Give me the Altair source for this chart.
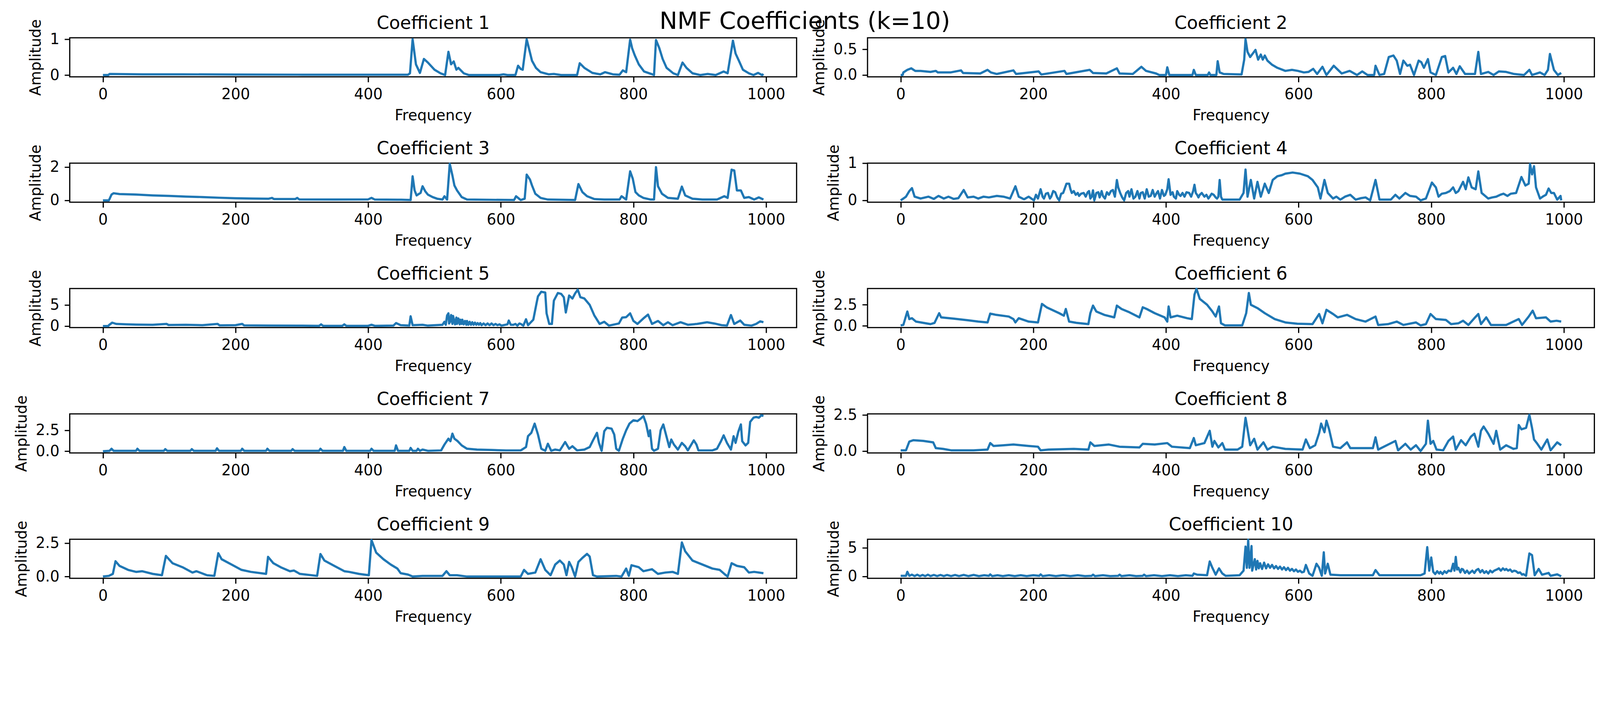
import altair as alt
import pandas as pd

# (frequency, amplitude) pairs
c1 = [(0,0),(8,0),(10,0.03),(60,0.02),(120,0.02),(200,0.015),(300,0.01),(400,0.01),(460,0.01),(463,0.05),(467,1.0),(472,0.3),(478,0.06),(484,0.45),(490,0.35),(500,0.15),(509,0.05),(516,0.0),(521,0.65),(525,0.3),(529,0.38),(533,0.15),(536,0.2),(544,0.05),(552,0.0),(598,0.0),(604,0.02),(610,0.0),(622,0.0),(626,0.26),(630,0.17),(633,0.15),(639,1.0),(643,0.7),(647,0.4),(653,0.2),(660,0.08),(672,0.02),(680,0.03),(691,0.0),(715,0.0),(719,0.33),(726,0.2),(738,0.06),(750,0.02),(757,0.08),(769,0.02),(779,0.01),(784,0.13),(789,0.08),(795,0.99),(798,0.75),(802,0.55),(808,0.3),(816,0.1),(827,0.03),(831,0.0),(834,0.98),(839,0.75),(844,0.45),(850,0.2),(860,0.05),(867,0.0),(874,0.35),(880,0.2),(889,0.05),(901,0.0),(912,0.03),(924,0.0),(936,0.1),(942,0.05),(950,0.96),(954,0.6),(959,0.4),(965,0.15),(974,0.05),(981,0.0),(988,0.06),(994,0.0),(996,0.03)]

c2 = [(0,0),(3,0),(4,0.05),(10,0.1),(16,0.13),(22,0.08),(30,0.08),(45,0.06),(53,0.08),(56,0.05),(75,0.05),(91,0.09),(94,0.04),(120,0.03),(131,0.1),(136,0.05),(145,0.02),(170,0.09),(174,0.02),(208,0.07),(212,0.01),(247,0.08),(250,0.02),(285,0.1),(290,0.04),(310,0.03),(326,0.13),(330,0.03),(350,0.02),(363,0.16),(370,0.08),(385,0.03),(390,0.0),(400,0.0),(402,0.15),(405,0.0),(440,0.0),(442,0.1),(445,0.0),(463,0.0),(465,0.05),(467,0.0),(476,0.0),(478,0.27),(481,0.05),(487,0.02),(514,0.01),(518,0.3),(520,0.7),(523,0.45),(527,0.35),(531,0.42),(535,0.49),(539,0.3),(543,0.4),(546,0.3),(549,0.38),(553,0.28),(560,0.2),(568,0.14),(580,0.08),(590,0.1),(599,0.08),(608,0.05),(615,0.06),(622,0.12),(628,0.02),(636,0.16),(642,0.0),(653,0.18),(665,0.03),(677,0.08),(688,0.0),(696,0.07),(704,0.0),(714,0.0),(716,0.18),(722,0.0),(729,0.02),(736,0.35),(743,0.38),(748,0.28),(753,0.02),(758,0.28),(764,0.18),(768,0.2),(774,0.0),(781,0.28),(785,0.25),(789,0.14),(795,0.31),(799,0.05),(807,0.0),(816,0.35),(821,0.37),(826,0.05),(833,0.14),(838,0.02),(843,0.17),(851,0.02),(866,0.02),(871,0.45),(875,0.02),(886,0.06),(894,0.0),(902,0.07),(913,0.06),(925,0.02),(940,0.0),(948,0.1),(952,0.0),(964,0.05),(971,0.0),(976,0.1),(979,0.41),(985,0.1),(991,0.0),(996,0.04)]

c3 = [(0,0),(9,0),(13,0.35),(16,0.43),(25,0.38),(50,0.35),(75,0.3),(100,0.27),(125,0.23),(150,0.2),(175,0.16),(200,0.13),(225,0.11),(250,0.1),(255,0.15),(258,0.08),(290,0.08),(293,0.15),(296,0.06),(350,0.05),(400,0.06),(405,0.15),(410,0.05),(450,0.04),(464,0.02),(467,1.45),(470,0.6),(473,0.3),(479,0.45),(482,0.85),(486,0.55),(490,0.35),(497,0.2),(504,0.1),(512,0.05),(515,0.25),(519,0.05),(523,2.2),(527,1.5),(530,0.9),(534,0.6),(541,0.2),(549,0.05),(620,0.02),(623,0.25),(630,0.02),(636,0.1),(639,1.55),(644,1.25),(647,0.9),(652,0.4),(660,0.15),(671,0.05),(712,0.02),(717,0.98),(723,0.5),(730,0.25),(741,0.08),(756,0.05),(779,0.05),(782,0.25),(789,0.05),(795,1.75),(799,1.3),(803,0.5),(808,0.3),(815,0.15),(826,0.05),(831,0.05),(834,2.0),(837,0.85),(843,0.4),(852,0.15),(867,0.1),(873,0.83),(878,0.3),(889,0.1),(904,0.05),(926,0.05),(937,0.25),(942,0.15),(948,1.85),(952,1.8),(956,0.6),(962,0.6),(967,0.15),(974,0.2),(982,0.05),(989,0.18),(996,0.05)]

c4 = [(0,0),(4,0.05),(8,0.1),(13,0.25),(17,0.33),(21,0.1),(30,0.05),(42,0.1),(50,0.04),(57,0.12),(65,0.05),(72,0.1),(80,0.04),(87,0.06),(95,0.28),(101,0.08),(110,0.1),(117,0.05),(125,0.1),(133,0.08),(145,0.12),(155,0.1),(165,0.05),(173,0.38),(178,0.1),(186,0.03),(193,0.1),(201,0.0),(204,0.15),(207,0.05),(211,0.3),(214,0.1),(216,0.05),(219,0.18),(222,0.2),(225,0.05),(227,0.1),(230,0.25),(233,0.22),(236,0.08),(239,0.0),(242,0.18),(245,0.2),(248,0.35),(250,0.45),(254,0.45),(256,0.3),(258,0.2),(261,0.25),(264,0.15),(267,0.2),(269,0.12),(272,0.18),(276,0.2),(279,0.1),(282,0.22),(284,0.25),(286,0.05),(288,0.1),(290,0.27),(292,0.0),(295,0.2),(298,0.22),(300,0.08),(303,0.25),(305,0.12),(308,0.05),(311,0.22),(314,0.15),(317,0.25),(320,0.28),(323,0.1),(326,0.55),(328,0.35),(331,0.2),(334,0.08),(337,0.0),(340,0.2),(343,0.25),(345,0.1),(348,0.3),(351,0.05),(354,0.1),(357,0.25),(360,0.05),(362,0.2),(365,0.22),(368,0.05),(371,0.3),(374,0.1),(377,0.12),(380,0.28),(383,0.1),(386,0.2),(388,0.25),(391,0.05),(394,0.28),(397,0.12),(399,0.15),(402,0.3),(404,0.57),(407,0.15),(410,0.22),(412,0.1),(415,0.05),(417,0.25),(420,0.15),(422,0.12),(425,0.2),(428,0.1),(431,0.22),(435,0.2),(438,0.1),(441,0.25),(443,0.42),(445,0.2),(447,0.15),(449,0.08),(451,0.15),(454,0.2),(458,0.1),(461,0.15),(464,0.05),(466,0.1),(469,0.18),(472,0.15),(475,0.08),(477,0.05),(479,0.1),(481,0.55),(483,0.1),(485,0.02),(511,0.02),(517,0.2),(520,0.83),(523,0.1),(528,0.55),(533,0.05),(538,0.5),(543,0.1),(549,0.45),(555,0.2),(561,0.55),(568,0.65),(575,0.68),(580,0.72),(591,0.75),(602,0.72),(614,0.65),(621,0.55),(629,0.35),(633,0.05),(639,0.55),(644,0.2),(652,0.05),(657,0.1),(663,0.02),(670,0.1),(678,0.15),(686,0.02),(694,0.06),(701,0.08),(708,0.0),(716,0.55),(722,0.02),(739,0.02),(746,0.15),(752,0.05),(761,0.2),(768,0.12),(777,0.1),(784,0.0),(792,0.05),(801,0.48),(807,0.35),(811,0.1),(816,0.18),(822,0.2),(828,0.25),(833,0.35),(837,0.2),(841,0.25),(848,0.5),(852,0.3),(856,0.62),(861,0.35),(867,0.3),(871,0.78),(876,0.2),(886,0.05),(892,0.08),(898,0.1),(904,0.15),(909,0.18),(915,0.12),(920,0.18),(928,0.2),(936,0.63),(942,0.4),(947,0.45),(949,0.98),(952,0.7),(955,0.92),(958,0.35),(964,0.05),(968,0.1),(973,0.15),(977,0.32),(981,0.2),(985,0.2),(990,0.02),(995,0.12),(996,0.0)]

c5 = [(0,0),(8,0),(9,0.2),(14,0.8),(20,0.5),(35,0.4),(50,0.35),(75,0.3),(96,0.5),(99,0.25),(125,0.3),(150,0.2),(173,0.5),(176,0.15),(200,0.2),(210,0.5),(213,0.15),(250,0.1),(300,0.08),(326,0.05),(329,0.4),(332,0.05),(361,0.05),(364,0.4),(367,0.05),(400,0.05),(405,0.3),(410,0.05),(438,0.1),(442,0.7),(449,0.2),(462,0.1),(464,2.3),(467,0.2),(482,0.3),(490,0.1),(512,0.3),(515,1.0),(517,0.3),(519,2.5),(521,3.0),(522,0.6),(524,1.2),(525,2.6),(527,0.5),(528,2.4),(530,1.0),(531,0.4),(533,2.0),(534,0.5),(536,1.8),(538,0.4),(539,1.5),(541,0.5),(542,1.5),(544,0.4),(546,1.2),(548,0.3),(549,1.2),(551,0.3),(553,1.0),(555,0.3),(557,0.9),(559,0.3),(561,0.8),(563,0.3),(565,0.7),(567,0.3),(569,0.7),(571,0.2),(574,0.6),(577,0.2),(580,0.6),(583,0.2),(586,0.6),(589,0.2),(592,0.5),(595,0.2),(598,0.4),(601,0.1),(604,0.2),(607,0.3),(610,0.4),(612,1.3),(615,0.3),(619,0.3),(622,0.5),(625,0.1),(628,0.6),(630,0.5),(634,0.1),(638,1.6),(641,0.2),(649,1.5),(654,5.5),(656,7.0),(661,8.1),(667,7.9),(669,3.0),(673,0.5),(677,0.5),(680,6.0),(686,7.8),(691,7.6),(695,6.8),(698,3.2),(703,7.2),(708,6.5),(712,7.7),(716,8.6),(720,6.8),(726,6.5),(734,5.0),(741,2.5),(749,0.5),(756,1.0),(763,0.1),(778,0.6),(783,2.0),(789,2.1),(795,3.0),(800,1.2),(806,0.5),(815,1.8),(822,2.7),(828,0.5),(837,1.2),(845,0.2),(852,0.9),(859,0.2),(871,0.9),(882,0.3),(896,0.5),(911,0.9),(922,0.6),(933,0.2),(941,0.1),(947,2.6),(952,0.5),(961,1.3),(967,0.3),(978,0.1),(985,0.5),(991,1.1),(996,0.9)]

c6 = [(0,0.05),(4,0.1),(10,1.7),(13,0.8),(17,0.9),(23,0.5),(34,0.35),(45,0.2),(51,0.35),(58,1.5),(61,1.0),(80,0.85),(102,0.65),(117,0.5),(131,0.4),(135,1.45),(144,1.3),(163,1.1),(170,0.8),(173,0.4),(178,0.9),(193,0.5),(207,0.4),(213,2.6),(220,2.2),(239,1.5),(246,1.2),(249,2.0),(254,0.5),(265,0.35),(283,0.2),(286,1.5),(290,2.4),(295,1.7),(307,1.3),(322,1.0),(326,2.4),(333,2.0),(345,1.6),(360,1.0),(365,2.2),(371,2.0),(383,1.5),(398,1.0),(402,0.5),(404,2.3),(407,1.0),(417,1.2),(432,0.9),(439,0.8),(443,3.7),(446,4.4),(451,3.2),(462,2.5),(470,1.7),(475,1.1),(480,2.3),(483,0.3),(489,0.05),(515,0.05),(521,1.5),(525,3.9),(528,2.5),(538,2.1),(549,1.5),(564,0.8),(580,0.4),(598,0.25),(621,0.2),(631,1.4),(636,0.3),(642,1.9),(652,1.4),(659,1.0),(673,1.3),(686,0.8),(701,0.5),(716,1.1),(720,0.1),(735,0.2),(748,0.5),(758,0.1),(777,0.4),(784,0.05),(792,0.2),(799,1.4),(807,0.8),(822,0.7),(830,0.2),(841,0.3),(848,0.6),(856,0.1),(865,0.9),(871,1.4),(875,0.2),(883,1.0),(890,0.1),(913,0.1),(932,0.8),(937,0.1),(947,1.1),(953,1.8),(958,0.9),(973,1.0),(980,0.5),(989,0.6),(996,0.5)]

c7 = [(0,0),(10,0.05),(13,0.3),(16,0.05),(50,0.05),(52,0.3),(55,0.05),(92,0.05),(94,0.25),(97,0.05),(132,0.05),(134,0.25),(137,0.05),(170,0.05),(172,0.35),(175,0.05),(208,0.05),(210,0.3),(213,0.05),(246,0.05),(248,0.3),(251,0.05),(284,0.05),(286,0.25),(289,0.05),(326,0.05),(328,0.3),(331,0.05),(362,0.05),(364,0.5),(367,0.05),(403,0.05),(405,0.3),(408,0.05),(440,0.05),(442,0.7),(445,0.05),(462,0.05),(464,0.4),(467,0.05),(473,0.05),(475,0.3),(478,0.05),(482,0.2),(490,0.05),(510,0.1),(515,0.8),(521,1.5),(524,1.2),(527,2.1),(530,1.5),(535,1.2),(541,0.7),(549,0.3),(564,0.2),(586,0.15),(608,0.1),(630,0.1),(638,0.5),(641,1.8),(646,2.2),(651,3.3),(656,2.0),(661,0.3),(667,0.05),(671,0.9),(676,0.05),(682,0.2),(689,0.1),(697,1.1),(703,0.3),(708,0.6),(715,0.1),(726,0.2),(734,0.5),(739,1.3),(745,2.2),(748,1.0),(752,0.05),(756,2.4),(760,2.8),(767,2.7),(771,2.0),(774,0.3),(778,0.05),(784,1.5),(789,2.5),(794,3.3),(800,3.7),(806,3.6),(811,3.9),(815,4.2),(819,3.3),(823,1.8),(825,2.5),(828,0.3),(831,0.05),(837,0.3),(841,2.5),(845,3.2),(848,2.3),(854,0.5),(857,1.4),(861,0.8),(867,0.2),(873,1.0),(878,0.6),(882,0.1),(891,1.3),(895,0.8),(898,0.1),(919,0.1),(926,0.3),(932,1.2),(936,1.9),(941,1.0),(947,0.2),(951,1.8),(954,1.0),(958,2.3),(962,3.2),(964,1.2),(969,0.7),(973,1.0),(976,3.5),(981,4.0),(985,4.1),(989,4.0),(993,4.3),(996,4.2)]

c8 = [(0,0.05),(8,0.05),(13,0.65),(19,0.75),(34,0.7),(49,0.6),(53,0.2),(64,0.15),(76,0.05),(110,0.05),(131,0.1),(135,0.55),(140,0.35),(155,0.4),(170,0.45),(193,0.35),(207,0.3),(211,0.05),(223,0.1),(261,0.15),(283,0.1),(286,0.6),(292,0.35),(314,0.45),(330,0.3),(360,0.25),(365,0.5),(383,0.45),(402,0.55),(409,0.3),(436,0.2),(442,0.9),(445,0.4),(458,0.55),(466,1.4),(470,0.3),(473,0.7),(479,0.25),(485,0.55),(489,0.1),(508,0.1),(515,0.3),(520,2.3),(523,1.5),(527,0.4),(533,0.85),(538,0.1),(547,0.6),(553,0.1),(561,0.3),(580,0.15),(606,0.1),(611,0.8),(617,0.2),(625,0.4),(631,1.25),(634,1.9),(639,1.3),(642,2.1),(646,1.5),(652,0.3),(663,0.2),(673,0.6),(678,0.2),(693,0.2),(712,0.2),(716,0.95),(720,0.1),(746,0.7),(750,0.05),(761,0.5),(769,0.1),(777,0.4),(784,0.0),(792,0.5),(795,2.1),(799,0.5),(803,0.7),(808,0.1),(818,0.05),(826,0.7),(833,1.0),(837,0.1),(845,0.75),(852,0.4),(860,1.0),(865,1.2),(871,0.3),(875,1.4),(879,1.7),(886,1.2),(894,0.5),(898,1.4),(904,0.1),(913,0.4),(924,0.15),(929,0.2),(932,1.8),(936,1.5),(943,1.6),(948,2.5),(952,1.6),(955,0.8),(960,0.5),(966,0.1),(975,0.8),(980,0.05),(990,0.6),(996,0.4)]

c9 = [(0,0),(9,0.05),(15,0.2),(19,1.15),(25,0.8),(38,0.5),(50,0.35),(59,0.4),(75,0.2),(89,0.1),(95,1.55),(105,1.0),(120,0.7),(135,0.3),(141,0.4),(157,0.1),(168,0.05),(174,1.75),(179,1.3),(194,0.9),(209,0.5),(223,0.35),(246,0.2),(249,1.48),(257,1.0),(268,0.7),(282,0.4),(288,0.45),(297,0.2),(323,0.05),(328,1.69),(334,1.2),(349,0.8),(364,0.4),(371,0.35),(386,0.2),(401,0.1),(405,2.74),(412,1.8),(423,1.3),(434,0.9),(444,0.6),(449,0.25),(460,0.15),(467,0.0),(482,0.05),(512,0.05),(518,0.4),(523,0.1),(534,0.1),(549,0.0),(630,0.0),(635,0.5),(641,0.2),(652,0.3),(660,1.3),(667,0.5),(675,0.1),(682,0.9),(689,1.2),(695,0.9),(699,0.1),(703,1.1),(707,0.7),(712,0.0),(717,1.1),(723,1.4),(730,1.7),(734,1.5),(739,0.1),(745,0.0),(774,0.05),(782,0.0),(789,0.6),(793,0.05),(797,0.85),(808,0.7),(815,0.4),(828,0.55),(837,0.2),(848,0.3),(859,0.35),(867,0.2),(873,2.56),(878,1.9),(889,1.2),(904,0.9),(919,0.6),(930,0.5),(937,0.2),(942,0.0),(948,1.0),(956,0.8),(967,0.7),(974,0.3),(982,0.35),(996,0.25)]

c10 = [(0,0.1),(8,0.1),(10,0.8),(13,0.1),(17,0.3),(21,0.05),(25,0.3),(29,0.05),(33,0.25),(37,0.05),(41,0.3),(45,0.05),(50,0.25),(55,0.05),(60,0.25),(65,0.05),(70,0.25),(76,0.05),(82,0.25),(88,0.05),(95,0.25),(102,0.05),(110,0.25),(118,0.05),(126,0.2),(133,0.1),(135,0.35),(138,0.05),(146,0.2),(154,0.05),(163,0.2),(172,0.05),(181,0.2),(190,0.05),(200,0.2),(209,0.1),(211,0.35),(214,0.05),(224,0.2),(234,0.05),(245,0.2),(256,0.05),(267,0.2),(278,0.05),(288,0.1),(290,0.3),(293,0.05),(305,0.2),(316,0.05),(328,0.1),(330,0.3),(333,0.05),(345,0.2),(355,0.05),(365,0.1),(367,0.3),(370,0.05),(382,0.2),(394,0.05),(406,0.2),(418,0.05),(430,0.2),(440,0.1),(442,0.5),(447,0.3),(462,0.2),(466,2.6),(470,1.5),(475,0.3),(480,1.4),(485,0.5),(490,0.1),(511,0.2),(517,1.0),(520,5.2),(522,1.5),(524,6.4),(526,1.5),(527,2.5),(529,5.3),(530,1.0),(532,2.0),(534,3.0),(536,1.2),(538,2.7),(540,1.4),(542,2.3),(545,1.3),(548,2.4),(551,1.4),(554,2.1),(557,1.5),(560,2.0),(563,1.4),(566,1.8),(569,1.3),(572,1.7),(575,1.2),(578,1.6),(581,1.1),(584,1.5),(587,1.0),(590,1.3),(593,0.9),(596,1.2),(599,0.8),(602,1.0),(605,0.7),(608,0.8),(611,2.0),(616,0.5),(621,0.1),(627,2.2),(631,1.5),(635,0.1),(638,4.2),(640,0.5),(644,2.2),(648,0.3),(663,0.2),(712,0.2),(716,1.1),(722,0.2),(754,0.2),(784,0.2),(790,0.5),(794,5.1),(797,1.0),(800,3.3),(803,0.8),(806,0.4),(809,0.9),(812,0.5),(814,0.8),(817,0.4),(820,0.9),(823,0.6),(826,1.0),(830,0.9),(833,2.2),(835,1.0),(837,3.4),(839,1.2),(841,1.5),(844,0.7),(846,1.3),(848,1.2),(851,0.6),(854,1.0),(857,0.5),(859,0.7),(862,1.0),(865,0.6),(868,1.1),(871,1.3),(874,0.7),(877,1.1),(880,0.6),(883,0.9),(886,0.5),(889,1.0),(892,0.7),(895,1.0),(899,1.2),(902,1.4),(905,1.0),(908,1.4),(911,1.1),(913,1.3),(916,1.0),(919,1.2),(922,0.8),(925,1.0),(928,0.9),(931,0.6),(934,0.7),(937,0.3),(939,0.4),(943,0.1),(948,4.0),(952,3.7),(956,0.2),(962,1.3),(967,0.3),(977,0.6),(980,0.1),(990,0.35),(996,0.0)]

series = [c1, c2, c3, c4, c5, c6, c7, c8, c9, c10]
titles = [f"Coefficient {i}" for i in range(1, 11)]
suptitle = "NMF Coefficients (k=10)"
y_domains = [[-0.05, 1.04], [-0.036, 0.725], [-0.11, 2.24], [-0.049, 1.002], [-0.36, 8.86],
             [-0.21, 4.43], [-0.2, 4.46], [-0.13, 2.57], [-0.13, 2.80], [-0.33, 6.48]]
y_ticks = [[0, 1], [0, 0.5], [0, 2], [0, 1], [0, 5], [0, 2.5], [0, 2.5], [0, 2.5], [0, 2.5], [0, 5]]
y_formats = ["d", ".1f", "d", "d", "d", ".1f", ".1f", ".1f", ".1f", "d"]
x_ticks = [0, 200, 400, 600, 800, 1000]
x_domain = [-50, 1046]

FONT = "DejaVu Sans"
W, H = 2029, 109
panels = []
for i, (pts, ttl, yd, yt, yf) in enumerate(zip(series, titles, y_domains, y_ticks, y_formats)):
    df = pd.DataFrame(pts, columns=["Frequency", "Amplitude"])
    line = alt.Chart(df).mark_line(color="#1f77b4", strokeWidth=6.25, strokeJoin="round").encode(
        x=alt.X("Frequency:Q",
                scale=alt.Scale(domain=x_domain, nice=False, zero=False),
                axis=alt.Axis(values=x_ticks, format="d", title="Frequency")),
        y=alt.Y("Amplitude:Q",
                scale=alt.Scale(domain=yd, nice=False, zero=False),
                axis=alt.Axis(values=yt, format=yf, title="Amplitude")),
    )
    ttl_mark = alt.Chart(pd.DataFrame({"t": [ttl]})).mark_text(
        font=FONT, fontSize=50, color="black", align="center", baseline="alphabetic"
    ).encode(text="t:N", x=alt.value(W / 2), y=alt.value(-25))
    layers = [line, ttl_mark]
    if i == 0:
        sup = alt.Chart(pd.DataFrame({"t": [suptitle]})).mark_text(
            font=FONT, fontSize=66.7, color="black", align="center", baseline="alphabetic"
        ).encode(text="t:N", x=alt.value(2052), y=alt.value(-25))
        layers.append(sup)
    panels.append(alt.layer(*layers).properties(width=W, height=H))

chart = alt.concat(
    *panels, columns=2, spacing=alt.RowColnumber(row=241, column=198), bounds="flush"
).properties(
    padding={"left": 30, "top": -57, "right": 5, "bottom": -30},
).configure(background="white").configure_view(
    stroke="black", strokeWidth=3.33
).configure_axis(
    labelFont=FONT, labelFontSize=41.7, labelColor="black",
    titleFont=FONT, titleFontSize=41.7, titleFontWeight="normal", titleColor="black",
    tickColor="black", tickWidth=3.33, tickSize=14.6, labelPadding=14.6, titlePadding=16.7,
    domain=False, grid=False, labelFlush=False, labelOverlap=False,
)

chart.save("out.html", embed_options={"renderer": "svg", "actions": False})
